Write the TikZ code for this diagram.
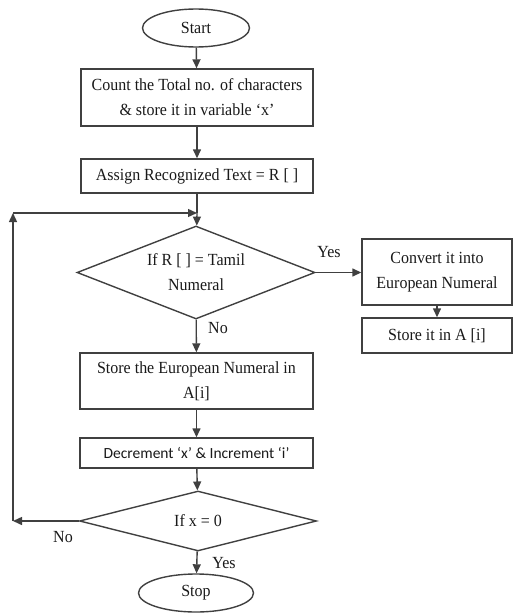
\documentclass[tikz,border=0pt]{standalone}
\usepackage{fontspec}
\setmainfont[FakeStretch=0.94]{Liberation Serif}
\newfontfamily\calfont{Carlito}
\usetikzlibrary{shapes.geometric,arrows.meta}
\begin{document}
\begin{tikzpicture}[x=1pt,y=-1pt,
  line width=1.4pt, draw=black!75,
  every node/.style={font=\fontsize{17}{25}\selectfont, text=black!90},
  flow/.style={-{Triangle[length=9pt,width=8pt]}},
  term/.style={ellipse, draw, inner sep=0pt},
  procbox/.style={rectangle, draw, inner sep=0pt, align=center},
  test/.style={diamond, draw, inner sep=0pt, align=center}]
\useasboundingbox (0,0) rectangle (515,613);
% main column
\node[term, minimum width=107, minimum height=38] (start) at (196,28) {Start};
\node[procbox, minimum width=232, minimum height=57] (count) at (197,97.5)
  {Count the Total no. of characters\\ \& store it in variable ‘x’};
\node[procbox, minimum width=232, minimum height=34] (assign) at (197,176)
  {Assign Recognized Text = R [ ]};
\coordinate (join) at (197,213);
\node[test, minimum width=238, minimum height=93, aspect=2.56] (isTamil) at (196,272.5)
  {If R [ ] = Tamil\\ Numeral};
\node[procbox, minimum width=233, minimum height=56] (storeEu) at (196.5,381)
  {Store the European Numeral in\\ A[i]};
\node[procbox, minimum width=233, minimum height=30,
  font=\calfont\fontsize{15.5}{18}\selectfont] (decr) at (196.5,453)
  {Decrement ‘x’ \& Increment ‘i’};
\node[test, minimum width=237, minimum height=60, aspect=3.95] (isZero) at (198,521)
  {If x = 0};
\node[term, minimum width=115, minimum height=38] (stop) at (196,593) {Stop};
% right branch
\node[procbox, minimum width=150, minimum height=66] (convert) at (437,272)
  {Convert it into\\ European Numeral};
\node[procbox, minimum width=150, minimum height=35] (storeA) at (437,335.5)
  {Store it in A [i]};
% loop corners
\coordinate (loopBL) at (13,521);
\coordinate (loopTL) at (13,213);
% connectors
\draw[flow] (start) -- (count);
\draw[flow] (count) -- (assign);
\draw (assign) -- (join);
\draw[flow] (join) -- (isTamil);
\draw[flow] (isTamil.east) -- (convert.west |- isTamil.east);
\draw[flow] (convert) -- (storeA);
\draw[flow] (isTamil) -- (storeEu);
\draw[flow] (storeEu) -- (decr);
\draw[flow] (decr) -- (isZero);
\draw[flow] (isZero) -- (stop);
\draw[flow] (isZero.west) -- (loopBL);
\draw[flow] (loopBL) -- (loopTL);
\draw[flow] (loopTL) -- (join);
% labels
\node (yesA) at (329,252) {Yes};
\node (noA) at (218,328) {No};
\node (noB) at (63,537) {No};
\node (yesB) at (224,563) {Yes};
\end{tikzpicture}
\end{document}
